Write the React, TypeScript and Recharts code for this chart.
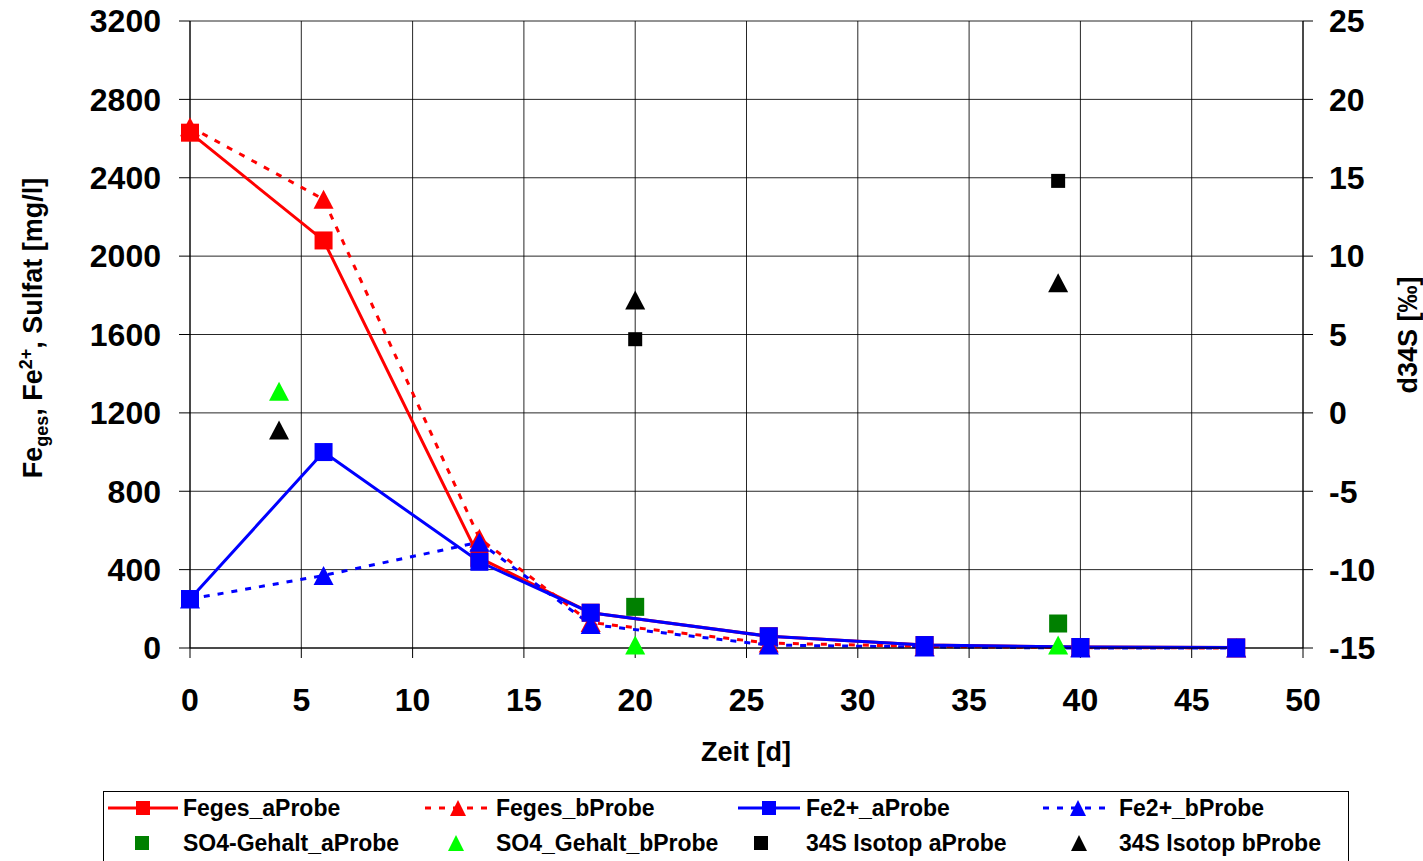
import React from 'react';
import { ComposedChart, Line, Scatter, XAxis, YAxis, CartesianGrid } from 'recharts';

// sampling days
const daysLine = [0, 6, 13, 18, 26, 33, 40, 47];
const daysSO4a = [20, 39];
const daysSO4b = [4, 20, 39];
const daysIsoA = [20, 39];
const daysIsoB = [4, 20, 39];

// concentrations [mg/l]
const fegesA = [2630, 2080, 460, 180, 60, 15, 5, 3];
const fegesB = [2660, 2290, 560, 130, 25, 8, 2, 0];
const fe2A = [250, 1000, 440, 180, 60, 15, 5, 3];
const fe2B = [250, 370, 540, 120, 15, 5, 0, 0];
const so4A = [210, 125];
const so4B = [1310, 15, 15];

// d34S [‰]
const isoA = [4.7, 14.8];
const isoB = [-1.1, 7.2, 8.3];

const xTicks = [0, 5, 10, 15, 20, 25, 30, 35, 40, 45, 50];
const leftTicks = [0, 400, 800, 1200, 1600, 2000, 2400, 2800, 3200];
const rightTicks = [-15, -10, -5, 0, 5, 10, 15, 20, 25];

const pts = (xs: number[], ys: number[]) => xs.map((x, i) => ({ x, y: ys[i] }));

const FONT = '"Liberation Sans", Arial, sans-serif';
const RED = '#ff0000';
const BLUE = '#0000ff';
const GREEN = '#008000';
const LIME = '#00ff00';

const square = (color: string, size = 18) => (p: any) => {
  if (p.cx == null || p.cy == null) return <g key={p.key ?? p.index} />;
  return (
    <rect key={`s-${p.index}`} x={p.cx - size / 2} y={p.cy - size / 2} width={size} height={size} fill={color} />
  );
};

const triangle = (color: string, w = 20, h = 19) => (p: any) => {
  if (p.cx == null || p.cy == null) return <g key={p.key ?? p.index} />;
  const { cx, cy } = p;
  return (
    <polygon
      key={`t-${p.index}`}
      points={`${cx - w / 2},${cy + h / 2} ${cx + w / 2},${cy + h / 2} ${cx},${cy - h / 2}`}
      fill={color}
    />
  );
};

const tickStyle = { fontSize: 32, fontWeight: 700, fontFamily: FONT, fill: '#000' };

const legendItems = [
  { name: 'Feges_aProbe', color: RED, kind: 'lineSq', sx: 108, sw: 70, tx: 183, row: 0 },
  { name: 'Feges_bProbe', color: RED, kind: 'dashTri', sx: 425, sw: 66, tx: 496, row: 0 },
  { name: 'Fe2+_aProbe', color: BLUE, kind: 'lineSq', sx: 738, sw: 62, tx: 806, row: 0 },
  { name: 'Fe2+_bProbe', color: BLUE, kind: 'dashTri', sx: 1043, sw: 70, tx: 1119, row: 0 },
  { name: 'SO4-Gehalt_aProbe', color: GREEN, kind: 'sq', sx: 122, sw: 40, tx: 183, row: 1 },
  { name: 'SO4_Gehalt_bProbe', color: LIME, kind: 'tri', sx: 436, sw: 40, tx: 496, row: 1 },
  { name: '34S Isotop aProbe', color: '#000', kind: 'sq', sx: 741, sw: 40, tx: 806, row: 1 },
  { name: '34S Isotop bProbe', color: '#000', kind: 'tri', sx: 1059, sw: 40, tx: 1119, row: 1 },
];

function LegendSymbol({ kind, color, w }: { kind: string; color: string; w: number }) {
  const c = w / 2;
  return (
    <svg width={w} height={20} style={{ display: 'block' }}>
      {(kind === 'lineSq' || kind === 'dashTri') && (
        <line
          x1={0}
          x2={w}
          y1={10}
          y2={10}
          stroke={color}
          strokeWidth={3}
          strokeDasharray={kind === 'dashTri' ? '6 8' : undefined}
        />
      )}
      {(kind === 'lineSq' || kind === 'sq') && <rect x={c - 7} y={3} width={14} height={14} fill={color} />}
      {(kind === 'dashTri' || kind === 'tri') && (
        <polygon points={`${c - 8},18 ${c + 8},18 ${c},2`} fill={color} />
      )}
    </svg>
  );
}

export default function App() {
  return (
    <div style={{ position: 'absolute', left: 0, top: 0, width: 1423, height: 861, overflow: 'hidden', background: '#fff', fontFamily: FONT }}>
      <ComposedChart width={1423} height={790} margin={{ top: 21, right: 0, left: 0, bottom: 0 }}>
        <CartesianGrid yAxisId="left" stroke="#000" strokeOpacity={0.85} />
        <XAxis
          type="number"
          dataKey="x"
          domain={[0, 50]}
          ticks={xTicks}
          height={142}
          tickSize={10}
          tickMargin={30}
          tick={tickStyle}
          stroke="#000"
        />
        <YAxis
          yAxisId="left"
          type="number"
          domain={[0, 3200]}
          ticks={leftTicks}
          width={190}
          tickSize={11}
          tickMargin={18}
          tick={tickStyle}
          stroke="#000"
        />
        <YAxis
          yAxisId="right"
          orientation="right"
          type="number"
          domain={[-15, 25]}
          ticks={rightTicks}
          width={120}
          tickSize={10}
          tickMargin={16}
          tick={tickStyle}
          stroke="#000"
        />
        <Line yAxisId="left" data={pts(daysLine, fegesA)} dataKey="y" stroke={RED} strokeWidth={3} dot={square(RED)} isAnimationActive={false} />
        <Line yAxisId="left" data={pts(daysLine, fegesB)} dataKey="y" stroke={RED} strokeWidth={3} strokeDasharray="6 8" dot={triangle(RED)} isAnimationActive={false} />
        <Line yAxisId="left" data={pts(daysLine, fe2A)} dataKey="y" stroke={BLUE} strokeWidth={3} dot={square(BLUE)} isAnimationActive={false} />
        <Line yAxisId="left" data={pts(daysLine, fe2B)} dataKey="y" stroke={BLUE} strokeWidth={3} strokeDasharray="6 8" dot={triangle(BLUE)} isAnimationActive={false} />
        <Scatter yAxisId="left" data={pts(daysSO4a, so4A)} dataKey="y" shape={square(GREEN)} isAnimationActive={false} />
        <Scatter yAxisId="left" data={pts(daysSO4b, so4B)} dataKey="y" shape={triangle(LIME)} isAnimationActive={false} />
        <Scatter yAxisId="right" data={pts(daysIsoA, isoA)} dataKey="y" shape={square('#000', 14)} isAnimationActive={false} />
        <Scatter yAxisId="right" data={pts(daysIsoB, isoB)} dataKey="y" shape={triangle('#000')} isAnimationActive={false} />
      </ComposedChart>

      {/* axis titles */}
      <div
        style={{
          position: 'absolute',
          left: 34,
          top: 328,
          transform: 'translate(-50%, -50%) rotate(-90deg)',
          whiteSpace: 'nowrap',
          fontSize: 27,
          fontWeight: 700,
          lineHeight: 1,
        }}
      >
        Fe<sub style={{ fontSize: 18 }}>ges</sub>, Fe<sup style={{ fontSize: 18 }}>2+</sup>, Sulfat [mg/l]
      </div>
      <div
        style={{
          position: 'absolute',
          left: 1408,
          top: 335,
          transform: 'translate(-50%, -50%) rotate(-90deg)',
          whiteSpace: 'nowrap',
          fontSize: 27,
          fontWeight: 700,
          lineHeight: 1,
        }}
      >
        d34S [‰]
      </div>
      <div
        style={{
          position: 'absolute',
          left: 746,
          top: 752,
          transform: 'translate(-50%, -50%)',
          whiteSpace: 'nowrap',
          fontSize: 27,
          fontWeight: 700,
          lineHeight: 1,
        }}
      >
        Zeit [d]
      </div>

      {/* legend */}
      <div style={{ position: 'absolute', left: 103, top: 791, width: 1246, height: 90, border: '1px solid #000', boxSizing: 'border-box' }} />
      {legendItems.map((it) => {
        const cy = it.row === 0 ? 808 : 843;
        return (
          <React.Fragment key={it.name}>
            <div style={{ position: 'absolute', left: it.sx, top: cy - 10 }}>
              <LegendSymbol kind={it.kind} color={it.color} w={it.sw} />
            </div>
            <div
              style={{
                position: 'absolute',
                left: it.tx,
                top: cy,
                transform: 'translateY(-50%)',
                fontSize: 23,
                fontWeight: 700,
                lineHeight: 1,
                whiteSpace: 'nowrap',
              }}
            >
              {it.name}
            </div>
          </React.Fragment>
        );
      })}
    </div>
  );
}
